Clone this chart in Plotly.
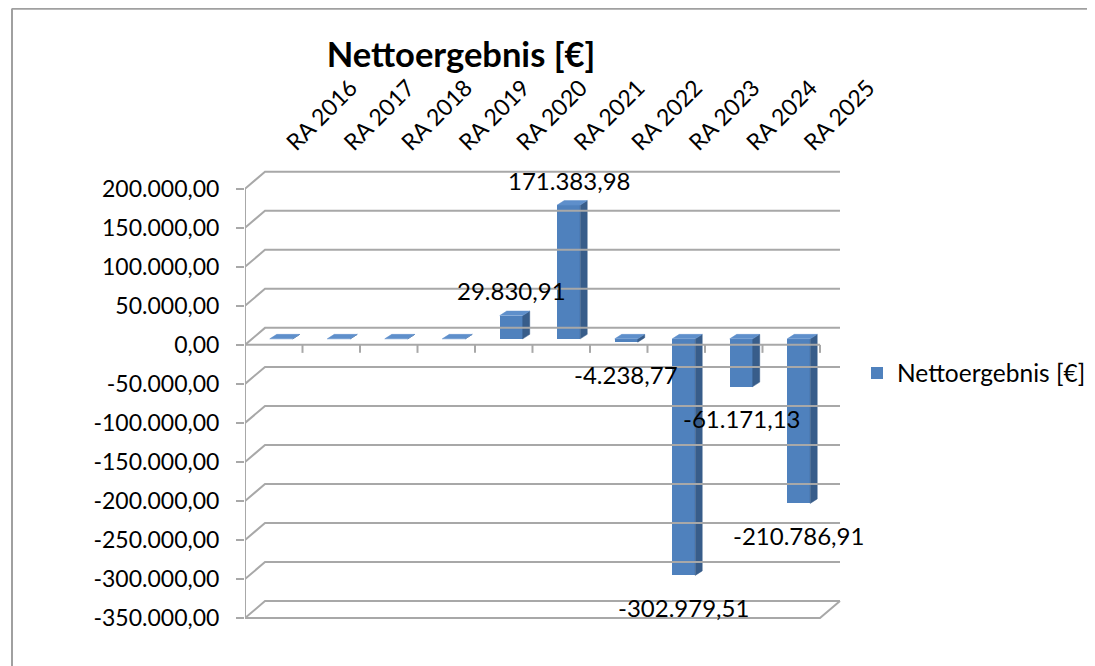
import plotly.graph_objects as go

# ---- data ----
categories = ["RA 2016", "RA 2017", "RA 2018", "RA 2019", "RA 2020",
              "RA 2021", "RA 2022", "RA 2023", "RA 2024", "RA 2025"]
values = [0, 0, 0, 0, 29830.91, 171383.98, -4238.77, -302979.51, -61171.13, -210786.91]
series_name = "Nettoergebnis [€]"
y_ticks = [200000, 150000, 100000, 50000, 0, -50000, -100000, -150000,
           -200000, -250000, -300000, -350000]

# ---- style constants ----
W, H = 1095, 666
PAD = 8  # page body margin offset
ML, MR, MT, MB = 245 - PAD, 1095 - (845 - PAD), 170 - PAD, 666 - (622 - PAD)
XR = [-0.5, 9.935]
YR = [-355000, 224000]
FONT = "Lato"
GRID = "#A8A8A8"
FRONT = "#4F81BD"
SIDE = "#385D8A"
TOP = "#5E8FCB"

upp = (YR[1] - YR[0]) / (H - MT - MB)   # data units per pixel
BAR_W, BAR_OFF = 0.4, -0.07
BASE = 6 * upp
SDX, SDY = 0.122, 4.5 * upp
WDX, WDY = 20 / 57.5, 17 * upp


def de(v):
    s = f"{abs(v):,.2f}".replace(",", "X").replace(".", ",").replace("X", ".")
    return ("-" if v < 0 else "") + s


idx = list(range(len(categories)))
fig = go.Figure()

# side and top faces of the 3D columns
sx, sy, tx, ty = [], [], [], []
for i, v in zip(idx, values):
    xl = i + BAR_OFF
    xr = xl + BAR_W
    lo, hi = min(BASE, BASE + v), max(BASE, BASE + v)
    sx += [xr, xr + SDX, xr + SDX, xr, xr, None]
    sy += [lo, lo + SDY, hi + SDY, hi, lo, None]
    tx += [xl, xl + SDX, xr + SDX, xr, xl, None]
    ty += [hi, hi + SDY, hi + SDY, hi, hi, None]

fig.add_trace(go.Scatter(x=sx, y=sy, fill="toself", fillcolor=SIDE, mode="lines",
                         line=dict(width=0.5, color=SIDE), showlegend=False, hoverinfo="skip"))
fig.add_trace(go.Bar(x=idx, y=values, base=BASE, width=BAR_W, offset=BAR_OFF,
                     marker=dict(color=FRONT, line=dict(width=0)), name=series_name))
fig.add_trace(go.Scatter(x=tx, y=ty, fill="toself", fillcolor=TOP, mode="lines",
                         line=dict(width=0.5, color=TOP), showlegend=False, hoverinfo="skip"))

shapes = []
# back-wall gridlines with the slanted side-wall part
for v in y_ticks:
    shapes.append(dict(type="path", xref="x", yref="y",
                       path=f"M {XR[0]},{v} L {XR[0] + WDX},{v + WDY} L {9.5 + WDX},{v + WDY}",
                       line=dict(color=GRID, width=2)))
# floor front edge
fmin = y_ticks[-1]
shapes.append(dict(type="path", xref="x", yref="y",
                   path=f"M {XR[0]},{fmin} L 9.5,{fmin} L {9.5 + WDX},{fmin + WDY}",
                   line=dict(color=GRID, width=2)))
# value axis line
shapes.append(dict(type="line", xref="x", yref="y", x0=-0.5, x1=-0.5,
                   y0=y_ticks[-1], y1=y_ticks[0], line=dict(color=GRID, width=2)))
# category axis at zero with tick marks
shapes.append(dict(type="line", xref="x", yref="y", x0=-0.5, x1=9.5, y0=0, y1=0,
                   line=dict(color=GRID, width=2)))
for k in range(1, len(categories) + 1):
    shapes.append(dict(type="line", xref="x", yref="y", x0=k - 0.5, x1=k - 0.5,
                       y0=0, y1=-8 * upp, line=dict(color=GRID, width=2)))
# outer chart frame (top and left)
pw, ph = W - ML - MR, H - MT - MB
xl_p = (12 - PAD - ML) / pw
yt_p = (H - MB - 0.5) / ph
shapes.append(dict(type="line", xref="paper", yref="paper", x0=xl_p, x1=(W + 5 - ML) / pw,
                   y0=yt_p, y1=yt_p, line=dict(color="#A0A0A0", width=2.5)))
shapes.append(dict(type="line", xref="paper", yref="paper", x0=xl_p, x1=xl_p,
                   y0=yt_p, y1=(H - MB - H - 5) / ph, line=dict(color="#A0A0A0", width=2)))

# data labels
annotations = []
for i, v in zip(idx, values):
    if v == 0:
        continue
    annotations.append(dict(x=i + BAR_OFF + BAR_W / 2, y=BASE + v, xref="x", yref="y",
                            text=de(v), showarrow=False,
                            yshift=25 if v > 0 else -32,
                            font=dict(family=FONT, size=24, color="#000000")))

fig.update_layout(
    width=W, height=H,
    margin=dict(l=ML, r=MR, t=MT, b=MB, autoexpand=False),
    paper_bgcolor="white", plot_bgcolor="white",
    separators=",.",
    title=dict(text=f"<b>{series_name}</b>", x=(461 - PAD) / W, xanchor="center",
               y=1 - (55 - PAD) / H, yanchor="middle",
               font=dict(family=FONT, size=34.5, color="#000000")),
    xaxis=dict(range=XR, side="top", tickmode="array", automargin=False,
               tickvals=[i + 0.25 for i in idx], ticktext=categories,
               tickangle=-45, showgrid=False, zeroline=False, showline=False,
               ticks="", ticklabelstandoff=9,
               tickfont=dict(family=FONT, size=23, color="#000000")),
    yaxis=dict(range=YR, tickmode="array", tickvals=y_ticks, automargin=False,
               ticktext=[de(v) for v in y_ticks],
               showgrid=False, zeroline=False, showline=False,
               ticks="outside", ticklen=8, tickwidth=2, tickcolor=GRID,
               ticklabelstandoff=12,
               tickfont=dict(family=FONT, size=23, color="#000000")),
    showlegend=True,
    legend=dict(x=(857 - PAD - ML) / pw, y=(H - MB - (373 - PAD)) / ph,
                xanchor="left", yanchor="middle",
                font=dict(family=FONT, size=24.5, color="#000000"),
                bgcolor="rgba(0,0,0,0)"),
    shapes=shapes,
    annotations=annotations,
    bargap=0,
)

fig.write_html("out.html")
